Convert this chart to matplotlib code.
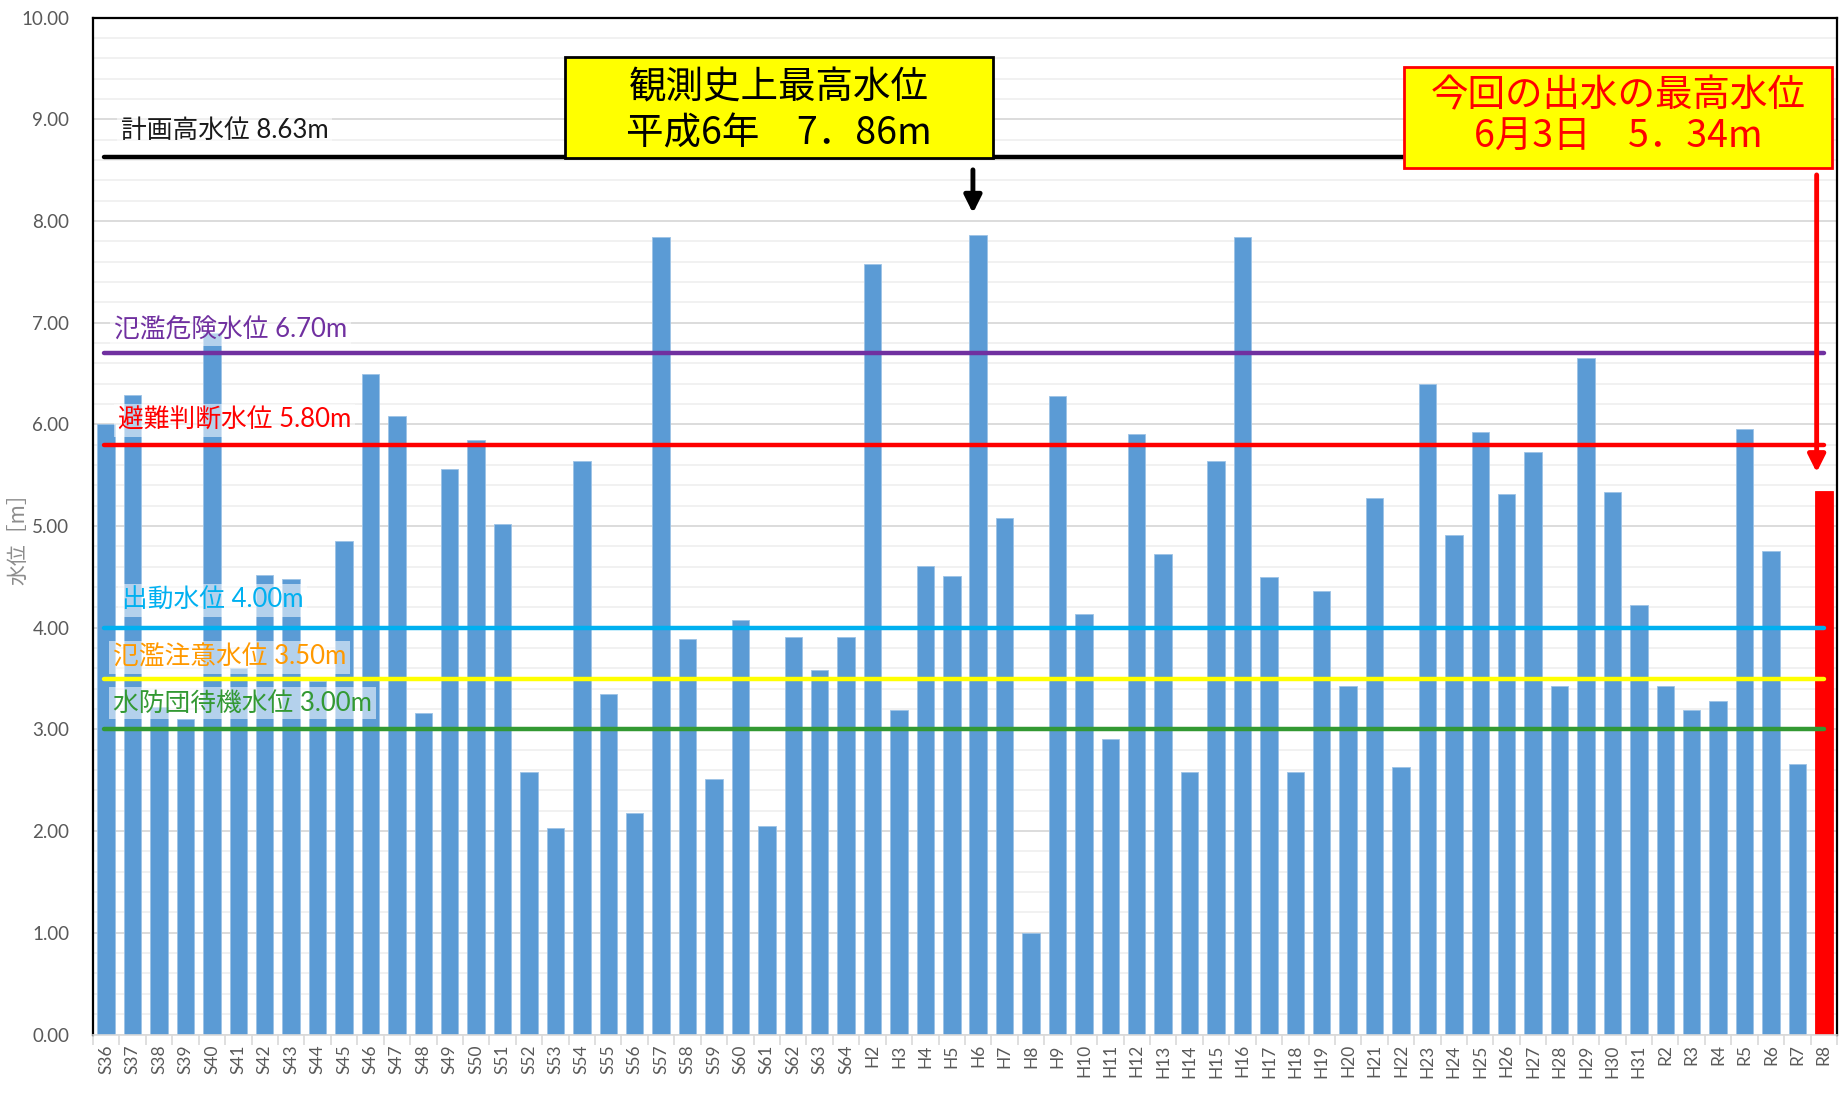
import matplotlib
matplotlib.use("Agg")
import matplotlib.pyplot as plt
from matplotlib.patches import Rectangle
from matplotlib.ticker import MultipleLocator, FixedLocator, FuncFormatter

plt.rcParams["font.family"] = ["Lato", "Noto Sans CJK JP", "DejaVu Sans"]

# --- data ---
years = ([f"S{n}" for n in range(36, 65)]
         + [f"H{n}" for n in range(2, 32)]
         + [f"R{n}" for n in range(2, 9)])
peak_level = [
    6.00, 6.29, 3.22, 3.10, 6.90, 3.60, 4.52, 4.48, 3.48, 4.85,   # S36-S45
    6.50, 6.08, 3.16, 5.56, 5.85, 5.02, 2.58, 2.03, 5.64, 3.35,   # S46-S55
    2.18, 7.84, 3.89, 2.51, 4.08, 2.05, 3.91, 3.58, 3.91,         # S56-S64
    7.58, 3.19, 4.61, 4.51, 7.86, 5.08, 1.00, 6.28, 4.14, 2.91,   # H2-H11
    5.91, 4.73, 2.58, 5.64, 7.84, 4.50, 2.58, 4.36, 3.43, 5.28,   # H12-H21
    2.63, 6.40, 4.91, 5.92, 5.32, 5.73, 3.43, 6.65, 5.33, 4.22,   # H22-H31
    3.43, 3.19, 3.28, 5.95, 4.75, 2.66, 5.34,                     # R2-R8
]

level_values = [8.63, 6.70, 5.80, 4.00, 3.50, 3.00]
level_names = ["計画高水位", "氾濫危険水位", "避難判断水位", "出動水位",
               "氾濫注意水位", "水防団待機水位"]
line_colors = ["#000000", "#7030A0", "#FF0000", "#00B0F0", "#FFFF00", "#339933"]
text_colors = ["#1a1a1a", "#7030A0", "#FF0000", "#00B0F0", "#FF9900", "#339933"]
label_x = [0.55, 0.3, 0.45, 0.6, 0.25, 0.25]
label_y = [8.89, 6.93, 6.04, 4.27, 3.71, 3.26]

record_title = "観測史上最高水位"
record_sub = "平成6年　7．86m"
current_title = "今回の出水の最高水位"
current_sub = "6月3日　5．34m"

W, H = 1839, 1095
fig = plt.figure(figsize=(W / 100, H / 100), dpi=100)
ax = fig.add_axes([93 / W, 1 - 1034.5 / H, (1837 - 93) / W, (1034.5 - 17.6) / H])

x = list(range(len(years)))
colors = ["#5B9BD5"] * (len(years) - 1) + ["#FF0000"]
ax.bar(x, peak_level, width=0.66, color=colors, edgecolor="#9DC3E6",
       linewidth=0.6, zorder=2)
ax.patches[-1].set_edgecolor("#FF0000")

ax.set_xlim(-0.5, len(years) - 0.5)
ax.set_ylim(0, 10)

# grid
ax.yaxis.set_major_locator(MultipleLocator(1))
ax.yaxis.set_minor_locator(MultipleLocator(0.2))
ax.yaxis.set_major_formatter(FuncFormatter(lambda v, p: f"{v:.2f}"))
ax.grid(axis="y", which="major", color="#D9D9D9", lw=1.3, zorder=0)
ax.grid(axis="y", which="minor", color="#F0F0F0", lw=1.3, zorder=0)
ax.set_axisbelow(True)

ax.set_xticks(x)
ax.set_xticklabels(years, rotation=90, fontsize=12.5, color="#595959")
ax.xaxis.set_minor_locator(FixedLocator([i - 0.5 for i in range(len(years) + 1)]))
ax.tick_params(axis="x", which="major", length=0, pad=7)
ax.tick_params(axis="x", which="minor", length=7, color="#D9D9D9", width=1.2)
ax.tick_params(axis="y", which="both", length=0, labelsize=13.5,
               labelcolor="#595959", pad=17)

for side in ["left", "top", "right"]:
    ax.spines[side].set_color("black")
    ax.spines[side].set_linewidth(1.6)
ax.spines["bottom"].set_color("#D9D9D9")
ax.spines["bottom"].set_linewidth(1.2)

fig.text(18 / W, 0.513, "水位［m］", rotation=90, va="center", ha="center",
         fontsize=15, color="#8c8c8c", family=["Noto Sans CJK JP"])

# level lines and labels
for val, name, lc, tc, lx, ly in zip(level_values, level_names, line_colors,
                                     text_colors, label_x, label_y):
    ax.plot([-0.1, len(years) - 1], [val, val], color=lc, lw=3.2,
            solid_capstyle="round", zorder=4)
    ax.text(lx, ly, f"{name} {val:.2f}m", color=tc, fontsize=18.5,
            ha="left", va="center", zorder=3,
            bbox=dict(boxstyle="square,pad=0.15", fc="white", ec="none",
                      alpha=0.55))

# annotation boxes
ax.add_patch(Rectangle((17.36, 8.62), 16.2, 0.99, fc="#FFFF00", ec="black",
                       lw=2, zorder=6))
bx = 17.36 + 16.2 / 2
ax.text(bx, 9.31, record_title, ha="center", va="center", fontsize=27,
        family=["Noto Sans CJK JP"], color="black", zorder=7)
ax.text(bx, 8.86, record_sub, ha="center", va="center", fontsize=27,
        family=["Noto Sans CJK JP"], color="black", zorder=7)

ax.add_patch(Rectangle((49.12, 8.52), 16.2, 0.99, fc="#FFFF00", ec="#FF0000",
                       lw=2, zorder=6))
rx = 49.12 + 16.2 / 2
ax.text(rx, 9.23, current_title, ha="center", va="center", fontsize=27,
        family=["Noto Sans CJK JP"], color="#FF0000", zorder=7)
ax.text(rx, 8.82, current_sub, ha="center", va="center", fontsize=27,
        family=["Noto Sans CJK JP"], color="#FF0000", zorder=7)

# arrows
ax.annotate("", xy=(32.8, 8.05), xytext=(32.8, 8.53),
            arrowprops=dict(arrowstyle="-|>", color="black", lw=3.5,
                            mutation_scale=26), zorder=7)
ax.annotate("", xy=(64.73, 5.5), xytext=(64.73, 8.48),
            arrowprops=dict(arrowstyle="-|>", color="#FF0000", lw=3.5,
                            mutation_scale=26), zorder=7)

fig.savefig("out.png", dpi=100)
